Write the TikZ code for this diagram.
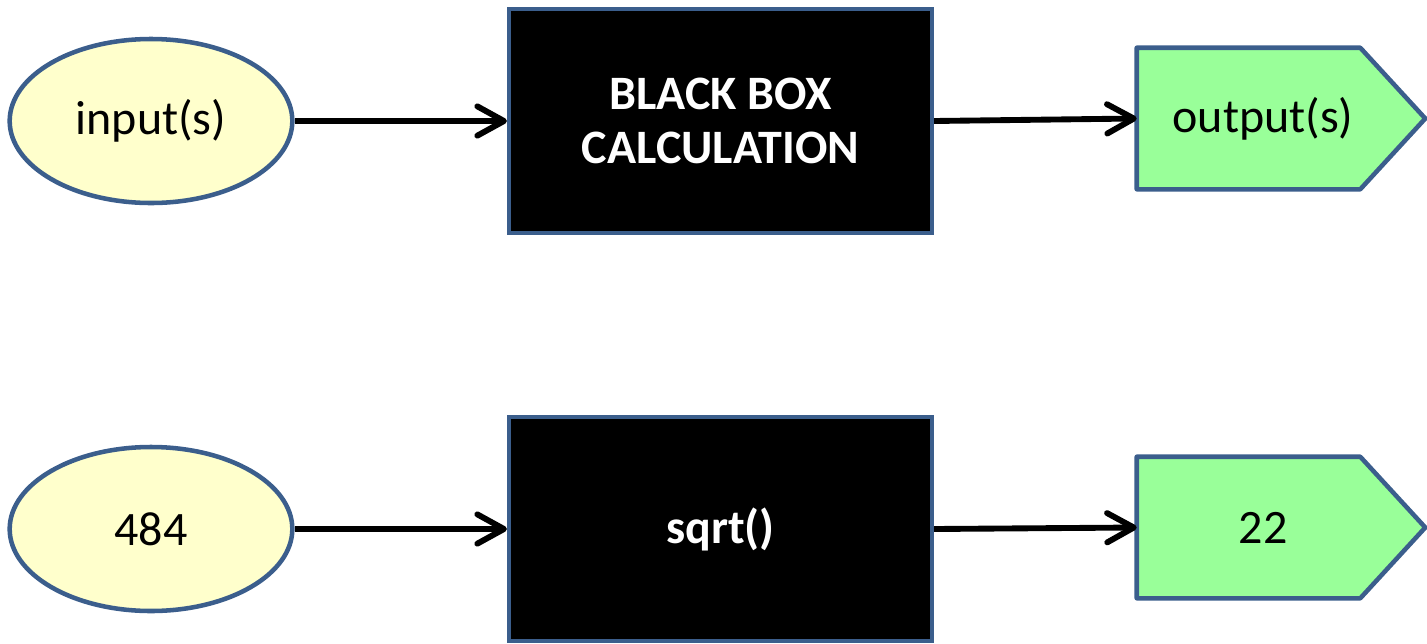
\documentclass[tikz,border=0pt]{standalone}
\usepackage{fontspec}
\setmainfont{Carlito}
\usetikzlibrary{arrows.meta,shapes.geometric,backgrounds}
\definecolor{bord}{HTML}{3B5E8C}
\definecolor{yel}{HTML}{FFFFCC}
\definecolor{grn}{HTML}{99FF99}
\begin{document}
\begin{tikzpicture}[x=0.75pt,y=-0.75pt,
 bigfont/.style={font=\fontsize{36}{41}\selectfont},
 inbox/.style={ellipse, draw=bord, line width=3.4pt, fill=yel, minimum width=212pt, minimum height=123pt, inner sep=0pt, bigfont},
 calcbox/.style={rectangle, draw=bord, line width=3.4pt, fill=black, text=white, minimum width=317pt, minimum height=168pt, align=center, font=\fontsize{36}{41}\selectfont\bfseries},
 outbox/.style={rectangle, minimum width=189pt, minimum height=105.75pt, inner sep=0pt, bigfont},
 pent/.style={draw=bord, line width=3.4pt, fill=grn, line join=round},
 conn/.style={line width=4.4pt, -{Straight Barb[length=20pt,width=22pt,line cap=round,line join=round]}}
]
\useasboundingbox (0,0) rectangle (1427,643);
% row 1
\node[inbox] (i1) at (151,121) {input(s)};
\node[calcbox] (b1) at (720.5,121) {BLACK BOX\\CALCULATION};
\node[outbox] (o1) at (1263,118.5) {output(s)};
% row 2
\node[inbox] (i2) at (151,529) {484};
\node[calcbox] (b2) at (720.5,529) {sqrt()};
\node[outbox] (o2) at (1263,527.5) {22};
\begin{scope}[on background layer]
\foreach \o in {o1,o2}{
 \draw[pent] (\o.north west) -- ([xshift=-21.75pt]\o.north east) -- ([xshift=27pt]\o.east) -- ([xshift=-21.75pt]\o.south east) -- (\o.south west) -- cycle;
}
\end{scope}
\draw[conn] (i1.east) -- (b1.west);
\draw[conn] (b1.east) -- (o1.west);
\draw[conn] (i2.east) -- (b2.west);
\draw[conn] (b2.east) -- (o2.west);
\end{tikzpicture}
\end{document}
